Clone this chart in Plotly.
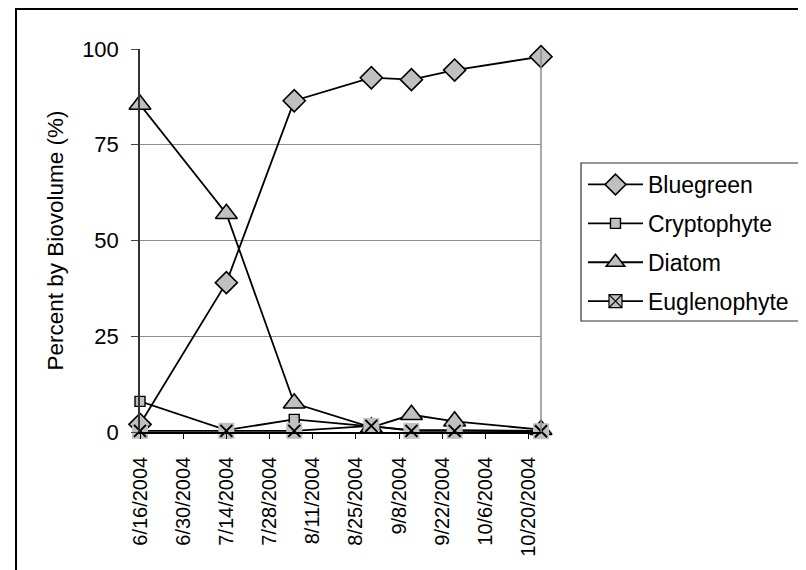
import plotly.graph_objects as go

dates = ["2004-06-16", "2004-07-14", "2004-08-05", "2004-08-30", "2004-09-12", "2004-09-26", "2004-10-24"]
bluegreen = [2.0, 39.0, 86.5, 92.5, 92.0, 94.5, 98.0]
cryptophyte = [8.0, 0.5, 3.3, 1.5, 0.5, 0.5, 0.3]
diatom = [85.5, 57.0, 7.5, 1.2, 4.5, 2.8, 0.6]
euglenophyte = [0.3, 0.3, 0.3, 1.6, 0.3, 0.3, 0.2]

tick_dates = ["2004-06-16", "2004-06-30", "2004-07-14", "2004-07-28", "2004-08-11",
              "2004-08-25", "2004-09-08", "2004-09-22", "2004-10-06", "2004-10-20"]
tick_labels = ["6/16/2004", "6/30/2004", "7/14/2004", "7/28/2004", "8/11/2004",
               "8/25/2004", "9/8/2004", "9/22/2004", "10/6/2004", "10/20/2004"]
y_ticks = [0, 25, 50, 75, 100]

FONT = "Arial, Liberation Sans, sans-serif"
GRAY = "#c0c0c0"
LINE = dict(color="black", width=1.8)

fig = go.Figure()
fig.add_trace(go.Scatter(x=dates, y=bluegreen, name="Bluegreen", mode="lines+markers",
                         legendgroup="a", cliponaxis=False, line=LINE,
                         marker=dict(symbol="diamond", size=17, color=GRAY,
                                     line=dict(color="black", width=1.6))))
fig.add_trace(go.Scatter(x=dates, y=cryptophyte, name="Cryptophyte", mode="lines+markers",
                         legendgroup="b", cliponaxis=False, line=LINE,
                         marker=dict(symbol="square", size=10, color=GRAY,
                                     line=dict(color="black", width=1.4))))
fig.add_trace(go.Scatter(x=dates, y=diatom, name="Diatom", mode="lines+markers",
                         legendgroup="c", cliponaxis=False, line=LINE,
                         marker=dict(symbol="triangle-up", size=19, color=GRAY,
                                     line=dict(color="black", width=1.6))))
# Euglenophyte: line, gray square background, black X on top
fig.add_trace(go.Scatter(x=dates, y=euglenophyte, name="Euglenophyte", mode="lines",
                         legendgroup="d", showlegend=False, cliponaxis=False, line=LINE))
fig.add_trace(go.Scatter(x=dates, y=euglenophyte, name="Euglenophyte", mode="markers",
                         legendgroup="d", showlegend=False, cliponaxis=False,
                         marker=dict(symbol="square", size=16, color=GRAY, line=dict(width=0))))
fig.add_trace(go.Scatter(x=dates, y=euglenophyte, name="Euglenophyte", mode="markers",
                         legendgroup="d", showlegend=False, cliponaxis=False,
                         marker=dict(symbol="x-thin", size=12, color="black",
                                     line=dict(color="black", width=2))))
# legend entry for Euglenophyte (no points of its own)
fig.add_trace(go.Scatter(x=[None], y=[None], name="Euglenophyte", mode="lines+markers",
                         legendgroup="d", line=LINE,
                         marker=dict(symbol="square-x", size=13, color=GRAY,
                                     line=dict(color="black", width=1.2))))

fig.update_layout(
    width=806, height=570,
    margin=dict(l=132, r=273, t=41, b=146),
    paper_bgcolor="white", plot_bgcolor="white",
    font=dict(family=FONT, size=20, color="black"),
    showlegend=True,
    legend=dict(x=1.1047, y=0.7023, xanchor="left", yanchor="top",
                borderwidth=0, bgcolor="rgba(0,0,0,0)",
                font=dict(family=FONT, size=23), tracegroupgap=6,
                itemsizing="trace", itemwidth=55),
    xaxis=dict(type="date", range=["2004-06-16", "2004-10-24"],
               tickmode="array", tickvals=tick_dates, ticktext=tick_labels,
               tickangle=-90, ticks="outside", ticklen=5, tickcolor="black",
               ticklabelstandoff=10,
               showline=True, linecolor="black", linewidth=1.5,
               showgrid=False, zeroline=False, tickfont=dict(size=20)),
    yaxis=dict(range=[0, 100], tickmode="array", tickvals=y_ticks,
               ticks="outside", ticklen=7, tickcolor="#444444",
               ticklabelstandoff=8,
               showline=True, linecolor="#333333", linewidth=1.5,
               showgrid=True, gridcolor="#8c8c8c", gridwidth=1, zeroline=False,
               title=dict(text="Percent by Biovolume (%)", font=dict(size=22.5), standoff=12),
               tickfont=dict(size=22)),
    shapes=[
        dict(type="line", xref="paper", yref="paper", x0=1, x1=1, y0=0, y1=1,
             line=dict(color="#8c8c8c", width=1.5)),
        dict(type="rect", xref="paper", yref="paper", x0=-0.3092, x1=1.8, y0=-0.45, y1=1.1044,
             line=dict(color="black", width=2), layer="below"),
        dict(type="rect", xref="paper", yref="paper", x0=1.0998, x1=1.651, y0=0.2898, y1=0.7023,
             line=dict(color="#333333", width=1.2), layer="below"),
    ],
)

fig.write_html("out.html")
